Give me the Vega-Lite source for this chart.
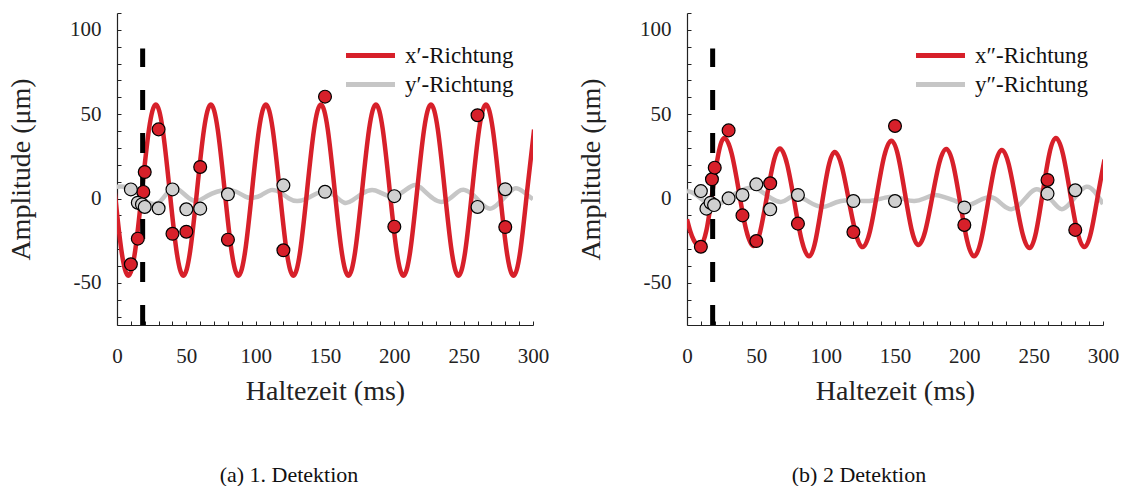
{
  "$schema": "https://vega.github.io/schema/vega-lite/v6.json",
  "padding": {"left": 7, "top": 2, "right": 5, "bottom": 0},
  "background": "white",
  "datasets": {
    "red1": [
      {"t":-1.76,"v":5},{"t":3.2,"v":-30.9},{"t":8.16,"v":-45.8},{"t":13.12,"v":-30.9},{"t":18.08,"v":5},{"t":23.04,"v":40.9},{"t":28,"v":55.8},{"t":32.96,"v":40.9},{"t":37.92,"v":5},{"t":42.88,"v":-30.9},{"t":47.84,"v":-45.8},{"t":52.8,"v":-30.9},{"t":57.76,"v":5},{"t":62.72,"v":40.9},{"t":67.68,"v":55.8},{"t":72.64,"v":40.9},{"t":77.6,"v":5},{"t":82.56,"v":-30.9},{"t":87.52,"v":-45.8},{"t":92.48,"v":-30.9},{"t":97.44,"v":5},{"t":102.4,"v":40.9},{"t":107.36,"v":55.8},{"t":112.32,"v":40.9},{"t":117.28,"v":5},{"t":122.24,"v":-30.9},{"t":127.2,"v":-45.8},{"t":132.16,"v":-30.9},{"t":137.12,"v":5},{"t":142.08,"v":40.9},{"t":147.04,"v":55.8},{"t":152,"v":40.9},{"t":156.96,"v":5},{"t":161.92,"v":-30.9},{"t":166.88,"v":-45.8},{"t":171.84,"v":-30.9},{"t":176.8,"v":5},{"t":181.76,"v":40.9},{"t":186.72,"v":55.8},{"t":191.68,"v":40.9},{"t":196.64,"v":5},{"t":201.6,"v":-30.9},{"t":206.56,"v":-45.8},{"t":211.52,"v":-30.9},{"t":216.48,"v":5},{"t":221.44,"v":40.9},{"t":226.4,"v":55.8},{"t":231.36,"v":40.9},{"t":236.32,"v":5},{"t":241.28,"v":-30.9},{"t":246.24,"v":-45.8},{"t":251.2,"v":-30.9},{"t":256.16,"v":5},{"t":261.12,"v":40.9},{"t":266.08,"v":55.8},{"t":271.04,"v":40.9},{"t":276,"v":5},{"t":280.96,"v":-30.9},{"t":285.92,"v":-45.8},{"t":290.88,"v":-30.9},{"t":295.84,"v":5},{"t":300.8,"v":40.9}
    ],
    "gray1": [
      {"t":0,"v":7},{"t":5,"v":7},{"t":10,"v":6},{"t":15,"v":3},{"t":20,"v":-1},{"t":25,"v":-3},{"t":30,"v":-2.5},{"t":35,"v":2},{"t":40,"v":6},{"t":45,"v":5},{"t":50,"v":1.5},{"t":57,"v":-1.5},{"t":65,"v":1.5},{"t":72,"v":4},{"t":79,"v":5},{"t":86,"v":4},{"t":93,"v":1},{"t":98,"v":0.5},{"t":104,"v":2},{"t":111,"v":5},{"t":118,"v":3.5},{"t":124,"v":0},{"t":130,"v":-1.5},{"t":137,"v":0},{"t":144,"v":3},{"t":151,"v":4},{"t":158,"v":1},{"t":164,"v":-2.5},{"t":170,"v":-1},{"t":177,"v":3},{"t":184,"v":5},{"t":190,"v":3.5},{"t":196,"v":1.5},{"t":201,"v":1.5},{"t":208,"v":5},{"t":215,"v":8},{"t":221,"v":5},{"t":228,"v":0},{"t":234,"v":-2},{"t":240,"v":0},{"t":246,"v":4},{"t":251,"v":5},{"t":257,"v":2},{"t":263,"v":-3},{"t":269,"v":-6},{"t":275,"v":-3},{"t":281,"v":2},{"t":287,"v":6},{"t":293,"v":4},{"t":300,"v":-0.5}
    ],
    "red2": [
      {"t":0,"v":-12.3},{"t":2.4,"v":-19.5},{"t":4.8,"v":-24.5},{"t":7.2,"v":-27.6},{"t":9.6,"v":-28.6},{"t":13.95,"v":-19.15},{"t":18.3,"v":3.65},{"t":22.65,"v":26.45},{"t":27,"v":35.9},{"t":32.25,"v":26.5},{"t":37.5,"v":3.85},{"t":42.75,"v":-18.8},{"t":48,"v":-28.2},{"t":52.75,"v":-19.7},{"t":57.5,"v":0.7},{"t":62.25,"v":21.1},{"t":67,"v":29.6},{"t":72.25,"v":20.2},{"t":77.5,"v":-2.35},{"t":82.75,"v":-24.9},{"t":88,"v":-34.3},{"t":92.6,"v":-25.2},{"t":97.25,"v":-3.35},{"t":101.9,"v":18.5},{"t":106.5,"v":27.6},{"t":111.55,"v":19.3},{"t":116.6,"v":-0.6},{"t":121.65,"v":-20.5},{"t":126.7,"v":-28.8},{"t":131.9,"v":-19.55},{"t":137.05,"v":2.75},{"t":142.2,"v":25.05},{"t":147.4,"v":34.3},{"t":152.25,"v":25.25},{"t":157.1,"v":3.4},{"t":161.95,"v":-18.45},{"t":166.8,"v":-27.5},{"t":171.85,"v":-19.15},{"t":176.9,"v":0.95},{"t":181.95,"v":21.05},{"t":187,"v":29.4},{"t":192,"v":20.05},{"t":197,"v":-2.45},{"t":202,"v":-24.95},{"t":207,"v":-34.3},{"t":212,"v":-25.05},{"t":217,"v":-2.75},{"t":222,"v":19.55},{"t":227,"v":28.8},{"t":232,"v":20.3},{"t":237,"v":-0.3},{"t":242,"v":-20.9},{"t":247,"v":-29.4},{"t":251.75,"v":-19.8},{"t":256.5,"v":3.25},{"t":261.25,"v":26.3},{"t":266,"v":35.9},{"t":271.1,"v":26.4},{"t":276.25,"v":3.55},{"t":281.4,"v":-19.3},{"t":286.5,"v":-28.8},{"t":291.4,"v":-19.9},{"t":296.25,"v":1.6},{"t":301.1,"v":23.1}
    ],
    "gray2": [
      {"t":0,"v":4.5},{"t":5,"v":3},{"t":10,"v":0},{"t":15,"v":-3},{"t":20,"v":-4},{"t":25,"v":-2.5},{"t":32,"v":1.5},{"t":40,"v":5},{"t":47,"v":6.5},{"t":54,"v":4},{"t":61,"v":0},{"t":68,"v":-2},{"t":74,"v":0.5},{"t":80,"v":1.5},{"t":88,"v":-2},{"t":97,"v":-5},{"t":104,"v":-3.5},{"t":111,"v":-1.5},{"t":119,"v":-1},{"t":127,"v":-1.5},{"t":135,"v":-1},{"t":143,"v":0.5},{"t":150,"v":1},{"t":157,"v":-0.5},{"t":164,"v":-1.5},{"t":171,"v":0},{"t":178,"v":2},{"t":185,"v":1},{"t":192,"v":-1},{"t":198,"v":-3},{"t":204,"v":-3.7},{"t":210,"v":-1.5},{"t":216,"v":0.5},{"t":222,"v":0},{"t":228,"v":-4},{"t":234,"v":-6.3},{"t":240,"v":-3.5},{"t":246,"v":2},{"t":252,"v":5.5},{"t":258,"v":3},{"t":264,"v":-2},{"t":270,"v":-6.3},{"t":276,"v":-3},{"t":282,"v":3},{"t":288,"v":7},{"t":294,"v":4},{"t":300,"v":-3.3}
    ],
    "pts1": [
      {"t":10,"v":-39,"s":"x"},{"t":15,"v":-23.8,"s":"x"},{"t":19,"v":3.9,"s":"x"},{"t":20,"v":15.7,"s":"x"},{"t":30,"v":41,"s":"x"},{"t":40,"v":-20.9,"s":"x"},{"t":50,"v":-19.7,"s":"x"},{"t":60,"v":18.7,"s":"x"},{"t":80,"v":-24.4,"s":"x"},{"t":120,"v":-30.7,"s":"x"},{"t":150,"v":60.4,"s":"x"},{"t":200,"v":-16.7,"s":"x"},{"t":260,"v":49.4,"s":"x"},{"t":280,"v":-16.9,"s":"x"},
      {"t":10,"v":5.4,"s":"y"},{"t":15,"v":-2.5,"s":"y"},{"t":18,"v":-3.5,"s":"y"},{"t":20,"v":-5,"s":"y"},{"t":30,"v":-5.8,"s":"y"},{"t":40,"v":5.4,"s":"y"},{"t":50,"v":-6.4,"s":"y"},{"t":60,"v":-6,"s":"y"},{"t":80,"v":2.5,"s":"y"},{"t":120,"v":7.8,"s":"y"},{"t":150,"v":4,"s":"y"},{"t":200,"v":1.4,"s":"y"},{"t":260,"v":-5,"s":"y"},{"t":280,"v":5.5,"s":"y"}
    ],
    "pts2": [
      {"t":10,"v":-28.6,"s":"x"},{"t":18,"v":11.4,"s":"x"},{"t":20,"v":18.3,"s":"x"},{"t":30,"v":40.4,"s":"x"},{"t":40,"v":-10,"s":"x"},{"t":50,"v":-25.2,"s":"x"},{"t":60,"v":9,"s":"x"},{"t":80,"v":-14.9,"s":"x"},{"t":120,"v":-19.9,"s":"x"},{"t":150,"v":43,"s":"x"},{"t":200,"v":-15.7,"s":"x"},{"t":260,"v":11,"s":"x"},{"t":280,"v":-18.6,"s":"x"},
      {"t":10,"v":4.4,"s":"y"},{"t":14,"v":-6,"s":"y"},{"t":17,"v":-2.5,"s":"y"},{"t":19.5,"v":-3.9,"s":"y"},{"t":30,"v":0.1,"s":"y"},{"t":40,"v":2.1,"s":"y"},{"t":50,"v":8.4,"s":"y"},{"t":60,"v":-6.4,"s":"y"},{"t":80,"v":2.1,"s":"y"},{"t":120,"v":-1.5,"s":"y"},{"t":150,"v":-1.5,"s":"y"},{"t":200,"v":-5.3,"s":"y"},{"t":260,"v":2.9,"s":"y"},{"t":280,"v":4.9,"s":"y"}
    ],
    "marker": [{"t":18.5,"lo":-75,"hi":89}]
  },
  "hconcat": [
    {
      "width": 416, "height": 312,
      "title": {"text": "(a) 1. Detektion", "orient": "bottom", "frame": "group", "anchor": "middle", "dx": -36, "offset": 60, "fontSize": 22, "fontWeight": "normal", "font": "Liberation Serif"},
      "layer": [
        {"data": {"name": "gray1"}, "mark": {"type": "line", "interpolate": "natural", "strokeWidth": 4.5, "clip": true},
         "encoding": {
           "x": {"field": "t", "type": "quantitative", "scale": {"domain": [0, 300], "nice": false, "zero": false},
                 "axis": {"title": "Haltezeit (ms)", "tickCount": 100, "values": [0,10,20,30,40,50,60,70,80,90,100,110,120,130,140,150,160,170,180,190,200,210,220,230,240,250,260,270,280,290,300], "labelExpr": "datum.value % 50 === 0 ? datum.label : ''", "labelOverlap": false, "labelBound": false, "labelFlush": false, "labelFont": "Liberation Serif", "titleFont": "Liberation Serif"}},
           "y": {"field": "v", "type": "quantitative", "scale": {"domain": [-75, 110], "nice": false, "zero": false},
                 "axis": {"title": "Amplitude (μm)", "tickCount": 100, "values": [-70,-60,-50,-40,-30,-20,-10,0,10,20,30,40,50,60,70,80,90,100,110], "labelExpr": "datum.value % 50 === 0 ? replace(datum.label, '−', '-') : ''", "labelOverlap": false, "labelBound": false, "labelFlush": false, "labelFont": "Liberation Serif", "titleFont": "Liberation Serif"}},
           "color": {"datum": "y′-Richtung", "type": "nominal", "scale": {"domain": ["x′-Richtung", "y′-Richtung"], "range": ["#d7202a", "#c6c6c6"]}, "legend": {"labelFont": "Liberation Serif"}}
         }},
        {"data": {"name": "red1"}, "mark": {"type": "line", "interpolate": "natural", "strokeWidth": 4.5, "clip": true},
         "encoding": {
           "x": {"field": "t", "type": "quantitative"},
           "y": {"field": "v", "type": "quantitative"},
           "color": {"datum": "x′-Richtung", "type": "nominal"}
         }},
        {"data": {"name": "marker"}, "mark": {"type": "rule", "strokeDash": [20, 23], "strokeWidth": 5, "color": "black"},
         "encoding": {
           "x": {"field": "t", "type": "quantitative"},
           "y": {"field": "lo", "type": "quantitative"},
           "y2": {"field": "hi"}
         }},
        {"data": {"name": "pts1"}, "mark": {"type": "circle", "size": 165, "stroke": "black", "strokeWidth": 1.2, "opacity": 1},
         "encoding": {
           "x": {"field": "t", "type": "quantitative"},
           "y": {"field": "v", "type": "quantitative"},
           "fill": {"field": "s", "type": "nominal", "scale": {"domain": ["x", "y"], "range": ["#d7202a", "#d0d0d0"]}, "legend": null}
         }}
      ]
    },
    {
      "width": 416, "height": 312,
      "title": {"text": "(b) 2 Detektion", "orient": "bottom", "frame": "group", "anchor": "middle", "dx": -36, "offset": 60, "fontSize": 22, "fontWeight": "normal", "font": "Liberation Serif"},
      "layer": [
        {"data": {"name": "gray2"}, "mark": {"type": "line", "interpolate": "natural", "strokeWidth": 4.5, "clip": true},
         "encoding": {
           "x": {"field": "t", "type": "quantitative", "scale": {"domain": [0, 300], "nice": false, "zero": false},
                 "axis": {"title": "Haltezeit (ms)", "tickCount": 100, "values": [0,10,20,30,40,50,60,70,80,90,100,110,120,130,140,150,160,170,180,190,200,210,220,230,240,250,260,270,280,290,300], "labelExpr": "datum.value % 50 === 0 ? datum.label : ''", "labelOverlap": false, "labelBound": false, "labelFlush": false, "labelFont": "Liberation Serif", "titleFont": "Liberation Serif"}},
           "y": {"field": "v", "type": "quantitative", "scale": {"domain": [-75, 110], "nice": false, "zero": false},
                 "axis": {"title": "Amplitude (μm)", "tickCount": 100, "values": [-70,-60,-50,-40,-30,-20,-10,0,10,20,30,40,50,60,70,80,90,100,110], "labelExpr": "datum.value % 50 === 0 ? replace(datum.label, '−', '-') : ''", "labelOverlap": false, "labelBound": false, "labelFlush": false, "labelFont": "Liberation Serif", "titleFont": "Liberation Serif"}},
           "color": {"datum": "y″-Richtung", "type": "nominal", "scale": {"domain": ["x″-Richtung", "y″-Richtung"], "range": ["#d7202a", "#c6c6c6"]}, "legend": {"labelFont": "Liberation Serif"}}
         }},
        {"data": {"name": "red2"}, "mark": {"type": "line", "interpolate": "natural", "strokeWidth": 4.5, "clip": true},
         "encoding": {
           "x": {"field": "t", "type": "quantitative"},
           "y": {"field": "v", "type": "quantitative"},
           "color": {"datum": "x″-Richtung", "type": "nominal"}
         }},
        {"data": {"name": "marker"}, "mark": {"type": "rule", "strokeDash": [20, 23], "strokeWidth": 5, "color": "black"},
         "encoding": {
           "x": {"field": "t", "type": "quantitative"},
           "y": {"field": "lo", "type": "quantitative"},
           "y2": {"field": "hi"}
         }},
        {"data": {"name": "pts2"}, "mark": {"type": "circle", "size": 165, "stroke": "black", "strokeWidth": 1.2, "opacity": 1},
         "encoding": {
           "x": {"field": "t", "type": "quantitative"},
           "y": {"field": "v", "type": "quantitative"},
           "fill": {"field": "s", "type": "nominal", "scale": {"domain": ["x", "y"], "range": ["#d7202a", "#d0d0d0"]}, "legend": null}
         }}
      ]
    }
  ],
  "spacing": 154,
  "bounds": "flush",
  "resolve": {"scale": {"color": "independent", "fill": "independent", "x": "independent", "y": "independent"}, "legend": {"color": "independent"}, "axis": {"x": "independent", "y": "independent"}},
  "config": {
    "font": "Liberation Serif",
    "view": {"stroke": null},
    "axis": {"grid": false, "domainColor": "#222", "domainWidth": 1.2, "tickColor": "#222", "tickWidth": 1, "tickSize": -4, "labelColor": "#222", "titleColor": "#222", "labelFontSize": 21, "titleFontSize": 28, "titleFontWeight": "normal", "labelOverlap": false, "labelBound": false, "labelFlush": false, "labelFont": "Liberation Serif", "titleFont": "Liberation Serif"},
    "axisX": {"labelPadding": 24, "titlePadding": 11},
    "axisY": {"labelPadding": 20, "titlePadding": 34},
    "legend": {"orient": "none", "legendX": 241, "legendY": 30, "title": null, "symbolType": "M-2.45,0H2.45", "symbolSize": 400, "symbolStrokeWidth": 5, "labelFontSize": 23, "labelOffset": 22, "rowPadding": 4, "padding": 0, "labelFont": "Liberation Serif", "labelColor": "#111"},
    "title": {"font": "Liberation Serif", "color": "#111"}
  }
}
